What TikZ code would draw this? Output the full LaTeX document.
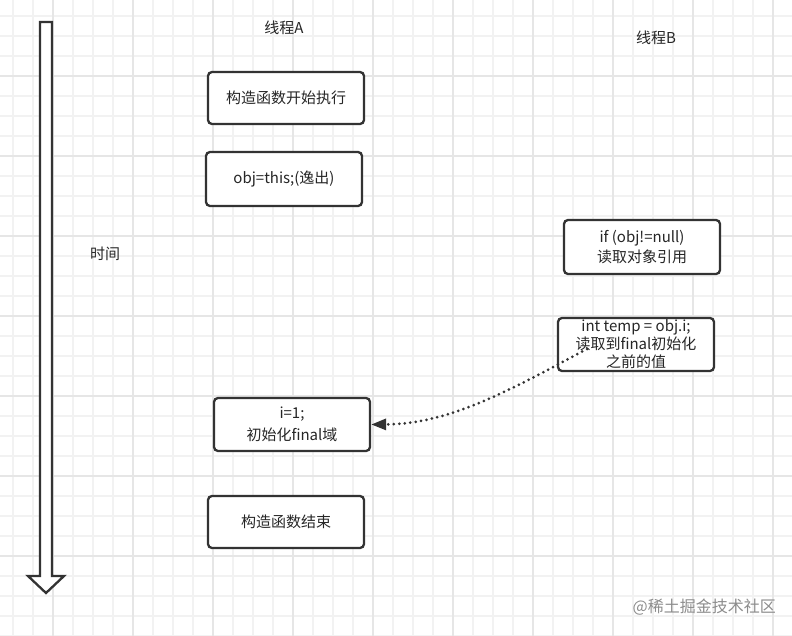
\documentclass[tikz,border=0pt]{standalone}
\usepackage{fontspec}
\setmainfont{Noto Sans CJK SC}
\usetikzlibrary{arrows.meta}
\definecolor{edge}{HTML}{333333}
\definecolor{gridminor}{HTML}{F2F2F2}
\definecolor{gridmajor}{HTML}{E6E6E6}
\tikzset{
  box/.style={draw=edge, line width=2.3pt, rounded corners=4pt, fill=white,
    minimum width=156pt, inner sep=0pt, align=center, text=black!85,
    font=\fontsize{15}{20}\selectfont},
  label/.style={inner sep=0pt, text=black!85, font=\fontsize{15}{18}\selectfont},
  conn/.style={draw=edge, line width=3pt, dash pattern=on 0pt off 5.5pt, line cap=round,
    -{Triangle[length=15pt,width=11pt,line cap=butt]}},
  timearrow/.style={draw=edge, line width=2.3pt, fill=white, line join=miter}
}
\begin{document}
\begin{tikzpicture}[x=1pt,y=-1pt]
\useasboundingbox (0,0) rectangle (792,636);
\fill[white] (0,0) rectangle (792,636);
% grid
\foreach \k in {0,...,38} {\draw[gridminor, line width=1.2pt] ({13+20*\k},0) -- ({13+20*\k},636);}
\foreach \k in {0,...,31} {\draw[gridminor, line width=1.2pt] (0,{16+20*\k}) -- (792,{16+20*\k});}
\foreach \k in {0,...,9} {\draw[gridmajor, line width=1.4pt] ({53+80*\k},0) -- ({53+80*\k},636);}
\foreach \k in {0,...,6} {\draw[gridmajor, line width=1.4pt] (0,{76+80*\k}) -- (792,{76+80*\k});}
% time arrow
\draw[timearrow] (40,22) -- (52,22) -- (52,576) -- (64,576) -- (46,593) -- (28,576) -- (40,576) -- cycle;
% labels
\node[label] (ta) at (284,28) {线程A};
\node[label] (tb) at (656,38) {线程B};
\node[label] (time) at (105,254) {时间};
% boxes
\node[box, minimum height=52pt] (b1) at (286,98) {构造函数开始执行};
\node[box, minimum height=54pt] (b2) at (284,179) {obj=this;(逸出)};
\node[box, minimum height=54pt] (b3) at (642,247) {if (obj!=null)\\读取对象引用};
\node[box, minimum height=53pt, font=\fontsize{15}{18}\selectfont] (b4) at (636,344.5) {int temp = obj.i;\\读取到final初始化\\之前的值};
\node[box, minimum height=53pt, font=\fontsize{15}{22}\selectfont] (b5) at (292,424.5) {i=1;\\初始化final域};
\node[box, minimum height=52pt] (b6) at (286,522) {构造函数结束};
% dotted connector
\coordinate (s) at (587,349);
\draw[conn] (s) .. controls (510,390) and (450,424) .. (b5.east);
% watermark
\node[anchor=east, inner sep=0pt, text=black!45, font=\fontsize{16}{16}\selectfont] (wm) at (776,607) {@稀土掘金技术社区};
\end{tikzpicture}
\end{document}
